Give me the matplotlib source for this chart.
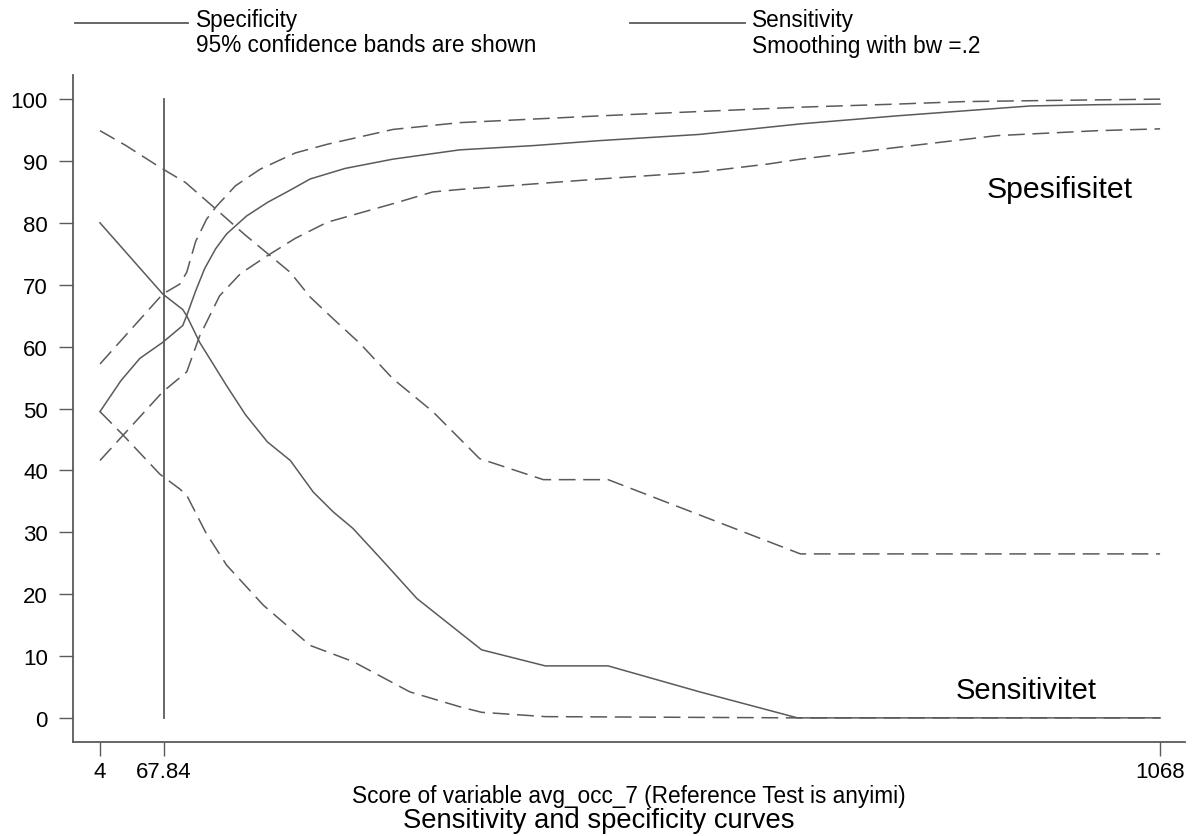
import matplotlib
matplotlib.use("Agg")
import matplotlib.pyplot as plt
from matplotlib.lines import Line2D

plt.rcParams['font.family'] = ['Liberation Sans', 'DejaVu Sans']

# ---- data ----
spec_x = [4, 25, 44, 67, 87, 91, 100, 109, 120, 131, 151, 172, 195, 215, 250, 298, 365, 440, 506, 606, 707, 804, 871, 938, 1005, 1068]
spec_y = [49.5, 54.5, 58.1, 60.7, 63.4, 65.0, 69.0, 72.6, 75.8, 78.2, 81.1, 83.3, 85.3, 87.1, 88.8, 90.3, 91.8, 92.5, 93.3, 94.3, 96.0, 97.3, 98.1, 98.9, 99.1, 99.2]

spec_hi_x = [4, 67, 84, 91, 100, 111, 121, 140, 165, 200, 232, 298, 365, 506, 606, 707, 804, 871, 964, 1068]
spec_hi_y = [57.2, 68.5, 70.1, 72.0, 77.0, 80.6, 82.7, 86.0, 88.7, 91.3, 92.7, 95.1, 96.2, 97.3, 98.0, 98.7, 99.2, 99.6, 99.8, 100.0]

spec_lo_x = [4, 67, 91, 104, 124, 145, 172, 200, 232, 298, 338, 365, 506, 606, 674, 707, 804, 904, 1005, 1068]
spec_lo_y = [41.6, 52.7, 55.9, 61.7, 68.2, 71.8, 74.7, 77.5, 80.1, 83.1, 85.0, 85.4, 87.1, 88.2, 89.5, 90.3, 92.2, 94.1, 94.9, 95.2]

sens_x = [4, 67, 87, 91, 104, 131, 150, 172, 195, 218, 238, 258, 290, 322, 387, 451, 514, 606, 704, 1068]
sens_y = [80.0, 68.5, 66.0, 65.0, 60.7, 53.7, 49.0, 44.6, 41.6, 36.5, 33.3, 30.6, 25.0, 19.3, 11.0, 8.4, 8.4, 4.2, 0.0, 0.0]

sens_hi_x = [4, 30, 64, 90, 117, 150, 195, 215, 238, 265, 298, 338, 372, 385, 449, 514, 707, 1068]
sens_hi_y = [94.9, 92.5, 89.0, 86.5, 82.7, 78.0, 72.0, 68.0, 64.5, 60.5, 54.8, 49.5, 44.0, 41.9, 38.5, 38.5, 26.5, 26.5]

sens_lo_x = [4, 26, 64, 84, 91, 110, 131, 168, 215, 258, 315, 365, 387, 451, 704, 1068]
sens_lo_y = [49.5, 45.9, 39.4, 37.0, 36.0, 30.0, 24.7, 18.2, 11.7, 9.1, 4.2, 1.8, 0.9, 0.2, 0.0, 0.0]

cutoff = 67.84
x_ticks = [4, 67.84, 1068]
x_tick_labels = ["4", "67.84", "1068"]
y_ticks = [0, 10, 20, 30, 40, 50, 60, 70, 80, 90, 100]

# ---- figure ----
W, H = 1197, 837
fig = plt.figure(figsize=(W / 100, H / 100), dpi=100)
ax = fig.add_axes([73 / W, 1 - 743 / H, (1185 - 73) / W, (743 - 76) / H])

col = '#5a5a5a'
lw = 1.1
dash = (0, (11, 5))

ax.plot(spec_x, spec_y, color=col, lw=lw)
ax.plot(spec_hi_x, spec_hi_y, color=col, lw=lw, linestyle=dash)
ax.plot(spec_lo_x, spec_lo_y, color=col, lw=lw, linestyle=dash)
ax.plot(sens_x, sens_y, color=col, lw=lw)
ax.plot(sens_hi_x, sens_hi_y, color=col, lw=lw, linestyle=dash)
ax.plot(sens_lo_x, sens_lo_y, color=col, lw=lw, linestyle=dash)
ax.plot([cutoff, cutoff], [0, 100], color=col, lw=1.3)

ax.set_xlim(-23.1, 1093)
ax.set_ylim(-3.9, 103.9)
ax.set_xticks(x_ticks)
ax.set_xticklabels(x_tick_labels)
ax.set_yticks(y_ticks)
for s in ['top', 'right']:
    ax.spines[s].set_visible(False)
for s in ['left', 'bottom']:
    ax.spines[s].set_color(col)
    ax.spines[s].set_linewidth(1.3)
ax.tick_params(axis='both', length=10, width=1.0, color=col, labelsize=16)
ax.tick_params(axis='y', pad=8)
ax.tick_params(axis='x', pad=4)

ax.text(1063 - 96, 85.5, "Spesifisitet", fontsize=21.8, ha='center', va='center')
ax.text(1030 - 96, 4.5, "Sensitivitet", fontsize=21, ha='center', va='center')

ax.set_xlabel("Score of variable avg_occ_7 (Reference Test is anyimi)", fontsize=16.3, labelpad=1)
fig.text(0.5, 1 - 821 / H, "Sensitivity and specificity curves", fontsize=19.7, ha='center', va='center')

# legend at top
def fx(px):
    return px / W

def fy(py):
    return 1 - py / H

fig.add_artist(Line2D([fx(75), fx(188)], [fy(24), fy(24)], color=col, lw=1.3))
fig.text(fx(196), fy(21), "Specificity", fontsize=16.3, ha='left', va='center')
fig.text(fx(196), fy(46), "95% confidence bands are shown", fontsize=16.3, ha='left', va='center')
fig.add_artist(Line2D([fx(630), fx(745)], [fy(24), fy(24)], color=col, lw=1.3))
fig.text(fx(752), fy(21), "Sensitivity", fontsize=16.3, ha='left', va='center')
fig.text(fx(752), fy(46), "Smoothing with bw =.2", fontsize=16.3, ha='left', va='center')

fig.savefig("out.png", dpi=100)
